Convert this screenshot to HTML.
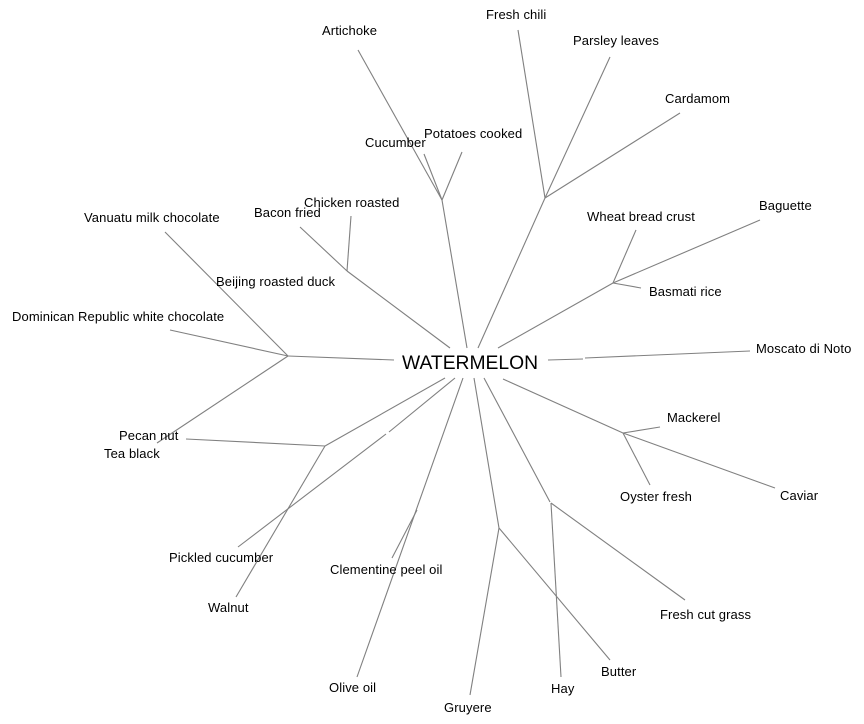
<!DOCTYPE html>
<html><head><style>html,body{margin:0;padding:0;background:#fff;}svg{display:block}</style></head>
<body>
<svg width="864" height="724" xmlns="http://www.w3.org/2000/svg" font-family="Liberation Sans, sans-serif" font-size="13" letter-spacing="0.1" fill="#000">
<g stroke="#808080" stroke-width="1.1" fill="none">
<line x1="467" y1="348" x2="442" y2="200"/>
<line x1="442" y1="200" x2="358" y2="50"/>
<line x1="442" y1="200" x2="424" y2="154"/>
<line x1="442" y1="200" x2="462" y2="152"/>
<line x1="478" y1="348" x2="545" y2="198"/>
<line x1="545" y1="198" x2="518" y2="30"/>
<line x1="545" y1="198" x2="610" y2="57"/>
<line x1="545" y1="198" x2="680" y2="113"/>
<line x1="498" y1="348" x2="613" y2="283"/>
<line x1="613" y1="283" x2="760" y2="220"/>
<line x1="613" y1="283" x2="636" y2="230"/>
<line x1="613" y1="283" x2="641" y2="288"/>
<line x1="548" y1="360" x2="583" y2="359"/>
<line x1="585" y1="358" x2="750" y2="351"/>
<line x1="503" y1="379" x2="623" y2="433"/>
<line x1="623" y1="433" x2="660" y2="427"/>
<line x1="623" y1="433" x2="650" y2="485"/>
<line x1="623" y1="433" x2="775" y2="488"/>
<line x1="484" y1="378" x2="550" y2="502"/>
<line x1="551" y1="503" x2="685" y2="600"/>
<line x1="551" y1="503" x2="561" y2="677"/>
<line x1="474" y1="378" x2="499" y2="528"/>
<line x1="499" y1="528" x2="470" y2="695"/>
<line x1="499" y1="528" x2="610" y2="660"/>
<line x1="463" y1="378" x2="357" y2="677"/>
<line x1="417" y1="510" x2="392" y2="558"/>
<line x1="455" y1="378" x2="389" y2="432"/>
<line x1="386" y1="434" x2="238" y2="547"/>
<line x1="445" y1="378" x2="325" y2="446"/>
<line x1="325" y1="446" x2="186" y2="439"/>
<line x1="325" y1="446" x2="236" y2="597"/>
<line x1="394" y1="360" x2="288" y2="356"/>
<line x1="288" y1="356" x2="165" y2="232"/>
<line x1="288" y1="356" x2="170" y2="330"/>
<line x1="288" y1="356" x2="157" y2="443"/>
<line x1="450" y1="348" x2="347" y2="271"/>
<line x1="347" y1="271" x2="300" y2="227"/>
<line x1="347" y1="271" x2="351" y2="216"/>
</g>
<text x="402" y="369" font-size="19.3" letter-spacing="0">WATERMELON</text>
<text x="322" y="35">Artichoke</text>
<text x="486" y="19">Fresh chili</text>
<text x="573" y="45">Parsley leaves</text>
<text x="665" y="103">Cardamom</text>
<text x="424" y="138">Potatoes cooked</text>
<text x="365" y="147">Cucumber</text>
<text x="304" y="207">Chicken roasted</text>
<text x="254" y="217">Bacon fried</text>
<text x="84" y="222">Vanuatu milk chocolate</text>
<text x="587" y="221">Wheat bread crust</text>
<text x="759" y="210">Baguette</text>
<text x="216" y="286">Beijing roasted duck</text>
<text x="649" y="296">Basmati rice</text>
<text x="12" y="321">Dominican Republic white chocolate</text>
<text x="756" y="353">Moscato di Noto</text>
<text x="667" y="422">Mackerel</text>
<text x="119" y="440">Pecan nut</text>
<text x="104" y="458">Tea black</text>
<text x="620" y="501">Oyster fresh</text>
<text x="780" y="500">Caviar</text>
<text x="169" y="562">Pickled cucumber</text>
<text x="330" y="574">Clementine peel oil</text>
<text x="208" y="612">Walnut</text>
<text x="660" y="619">Fresh cut grass</text>
<text x="601" y="676">Butter</text>
<text x="329" y="692">Olive oil</text>
<text x="551" y="693">Hay</text>
<text x="444" y="712">Gruyere</text>
</svg>
</body></html>
